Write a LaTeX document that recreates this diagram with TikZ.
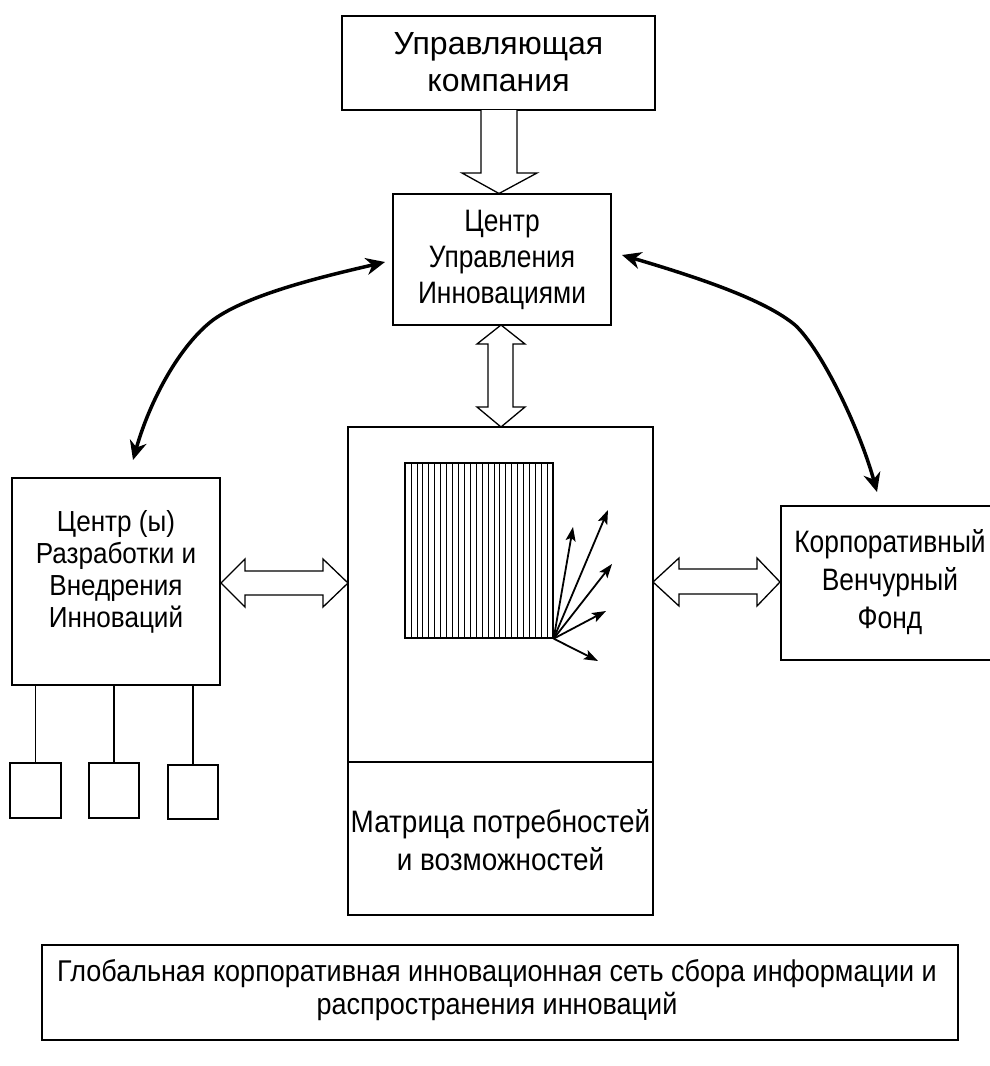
\documentclass[tikz,border=0pt]{standalone}
\usepackage{fontspec}
\setmainfont{Liberation Sans}
\newfontfamily\condfont[FakeStretch=0.85]{Liberation Sans}
\newfontfamily\condb[FakeStretch=0.9]{Liberation Sans}
\usetikzlibrary{arrows.meta}
\begin{document}
\begin{tikzpicture}[x=1pt,y=-1pt,
  box/.style={draw, line width=1.3pt, inner sep=0pt, outer sep=0pt},
  sbox/.style={draw, line width=2pt, inner sep=0pt, outer sep=0pt, minimum width=50pt, minimum height=55pt},
  txt/.style={inner sep=0pt, align=center},
  hollow/.style={draw, line width=1.3pt, fill=white, line join=miter},
  bigarrow/.style={line width=3.5pt, {Stealth[length=19pt,width=17pt,inset=6pt]}-{Stealth[length=19pt,width=17pt,inset=6pt]}},
  smallarrow/.style={line width=1.8pt, -{Stealth[length=14pt,width=10pt,inset=3pt]}},
  link/.style={line width=1.5pt}]
\useasboundingbox[fill=white] (0,0) rectangle (989,1066);

% boxes
\node[box, minimum width=313pt, minimum height=94pt] (top) at (498.5,63) {};
\node[txt, font=\fontsize{32}{37}\selectfont] (toptxt) at (498.5,62) {Управляющая\\компания};

\node[box, minimum width=218pt, minimum height=131pt] (ctr) at (502,259.5) {};
\node[txt, font=\condfont\fontsize{31}{36}\selectfont] (ctrtxt) at (502,260) {Центр\\Управления\\Инновациями};

\node[box, minimum width=208pt, minimum height=207pt] (left) at (116,581.5) {};
\node[txt, font=\condb\fontsize{29}{32}\selectfont] (lefttxt) at (116,572) {Центр (ы)\\Разработки и\\Внедрения\\Инноваций};

\node[box, minimum width=305pt, minimum height=488pt] (mat) at (500.5,671) {};
\node[box, minimum width=305pt, minimum height=153pt] (matl) at (500.5,838.5) {};
\node[txt, font=\condb\fontsize{31}{38}\selectfont] (mattxt) at (500.5,840) {Матрица потребностей\\и возможностей};

\node[box, minimum width=219pt, minimum height=154pt] (right) at (890.5,583) {};
\node[txt, font=\condfont\fontsize{31}{38}\selectfont] (righttxt) at (890,582) {Корпоративный\\Венчурный\\Фонд};

\node[box, minimum width=916pt, minimum height=95pt] (glob) at (500,992.5) {};
\node[txt, font=\condb\fontsize{30}{33}\selectfont] (globtxt) at (497,990) {Глобальная корпоративная инновационная сеть сбора информации и\\распространения инноваций};

% small boxes
\node[sbox, minimum width=51pt] (sb1) at (35.5,790.5) {};
\node[sbox] (sb2) at (114,790.5) {};
\node[sbox, minimum height=54pt] (sb3) at (193,792) {};
\draw[link] (sb1.north |- left.south) -- (sb1.north);
\draw[link] (sb2.north |- left.south) -- (sb2.north);
\draw[link] (sb3.north |- left.south) -- (sb3.north);

% hollow arrows
\draw[hollow] (481,110) -- (481,173) -- (462,173) -- (499,193.5) -- (537,173) -- (517,173) -- (517,110);
\draw[hollow] (501,325) -- (525,344) -- (513,344) -- (513,407) -- (525,407) -- (501,427) -- (477,407) -- (488,407) -- (488,344) -- (477,344) -- cycle;
\draw[hollow] (221,583) -- (245,559) -- (245,571) -- (323,571) -- (323,559) -- (348,583) -- (323,607) -- (323,595) -- (245,595) -- (245,607) -- cycle;
\draw[hollow] (653,582) -- (679,558) -- (679,569) -- (757,569) -- (757,558) -- (780,582) -- (757,606) -- (757,594) -- (679,594) -- (679,606) -- cycle;

% curved arrows
\coordinate (lA) at (133,460);
\coordinate (lB) at (385,262);
\coordinate (rA) at (622,255);
\coordinate (rB) at (877,492);
\draw[bigarrow] (lA) .. controls (150,400) and (180,345) .. (213,320) .. controls (250,293) and (330,275) .. (lB);
\draw[bigarrow] (rA) .. controls (700,278) and (765,300) .. (795,325) .. controls (822,350) and (860,430) .. (rB);

% hatched rectangle
\node[draw, line width=1.3pt, minimum width=148pt, minimum height=175pt, inner sep=0pt] (hatch) at (479,550.5) {};
\foreach \i in {1,...,24} \draw[line width=0.6pt] ({405+\i*148/25},463) -- ({405+\i*148/25},638);

% small arrows
\coordinate (c1) at (573,527);
\coordinate (c2) at (608,510);
\coordinate (c3) at (612,564);
\coordinate (c4) at (606,611);
\coordinate (c5) at (598,661);
\foreach \c in {c1,c2,c3,c4,c5} \draw[smallarrow] (hatch.south east) -- (\c);
\end{tikzpicture}
\end{document}
